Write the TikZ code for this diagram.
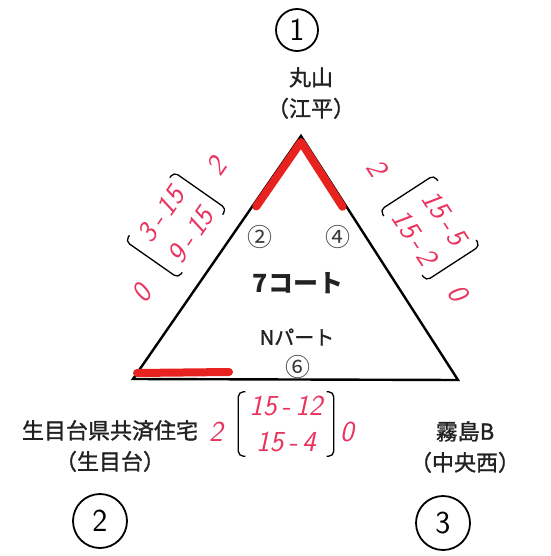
\documentclass[tikz,border=0pt]{standalone}
\usepackage{fontspec}
\setmainfont{Noto Sans CJK JP}
\newfontfamily\medium{Noto Sans CJK JP}[FakeBold=1.3]
\usepackage{xcolor}
\definecolor{marker}{HTML}{E8221E}
\definecolor{pen}{HTML}{E8355F}
\definecolor{inkdark}{HTML}{222222}
\definecolor{inkgray}{HTML}{3A3A3A}
\usepackage{tikz}
\usetikzlibrary{calc}

% brackets round a score node
\newcommand{\scorebox}[1]{%
  \draw[brk] ($(#1.north west)!7pt!(#1.north east)$) -- (#1.north west) -- (#1.south west) -- ($(#1.south west)!7pt!(#1.south east)$);
  \draw[brk] ($(#1.north east)!7pt!(#1.north west)$) -- (#1.north east) -- (#1.south east) -- ($(#1.south east)!7pt!(#1.south west)$);}

\begin{document}
\begin{tikzpicture}[x=1pt,y=-1pt,
    team/.style={font=\medium\fontsize{22}{31}\selectfont, text=inkdark, align=center},
    seat/.style={font=\fontsize{25}{25}\selectfont, text=inkgray},
    hand/.style={font=\sffamily\itshape\fontsize{29}{36}\selectfont, text=pen},
    score/.style={hand, align=center, minimum width=84pt, minimum height=64pt, inner sep=0pt},
    brk/.style={draw=black, line width=1.3pt, rounded corners=5pt},
    rank/.style={circle, draw=black, line width=1.8pt, minimum size=48pt, inner sep=0pt, font=\sffamily\fontsize{32}{32}\selectfont},
    hilite/.style={draw=marker, line width=8pt, line cap=round, line join=round}]
  \path[use as bounding box] (0,0) rectangle (550,556);
  % court triangle
  \coordinate (top) at (301,136);
  \coordinate (bl) at (133,379);
  \coordinate (br) at (458,380);
  \draw[line width=2.4pt] (top) -- (br) -- (bl) -- cycle;
  \draw[hilite] ($(top)!0.29!(bl)+(4,0)$) -- ($(top)+(0,6)$) -- ($(top)!0.29!(br)+(-4,0)$);
  \draw[hilite] ($(bl)+(4,-6)$) -- ($(bl)+(96,-7)$);
  % inside the court
  \node[seat] (s2) at (260,237) {②};
  \node[seat] (s4) at (338,237) {④};
  \node[font=\bfseries\fontsize{25}{25}\selectfont, text=inkdark] (court) at (298,283) {7コート};
  \node[font=\medium\fontsize{20}{20}\selectfont, text=inkdark] (part) at (297,337) {Nパート};
  \node[seat] (s6) at (298,367) {⑥};
  % teams and their places
  \node[team] (maruyama) at (311,93) {丸山\\（江平）};
  \node[team] (ikime) at (110,446) {生目台県共済住宅\\（生目台）};
  \node[team] (kirishima) at (465,447) {霧島B\\（中央西）};
  \node[rank, minimum size=42pt] (r1) at (297,30) {1};
  \node[rank, minimum size=54pt] (r2) at (100,521) {2};
  \node[rank, minimum size=54pt] (r3) at (443,523) {3};
  % scores
  \node[score, rotate=55] (sleft) at (176,225) {3\,-\,15\\9\,-\,15};
  \scorebox{sleft}
  \node[hand, rotate=55] (wleft) at (216,166) {2};
  \node[hand, rotate=55] (lleft) at (142,293) {0};
  \node[score, rotate=-57] (sright) at (430,228) {15\,-\,5\\15\,-\,2};
  \scorebox{sright}
  \node[hand, rotate=-57] (wright) at (377,168) {2};
  \node[hand, rotate=-57] (lright) at (458,293) {0};
  \node[score, minimum width=95pt] (sbottom) at (286,424) {15\,-\,12\\15\,-\,4};
  \scorebox{sbottom}
  \node[hand] (wbottom) at (216,432) {2};
  \node[hand] (lbottom) at (347,432) {0};
\end{tikzpicture}
\end{document}
